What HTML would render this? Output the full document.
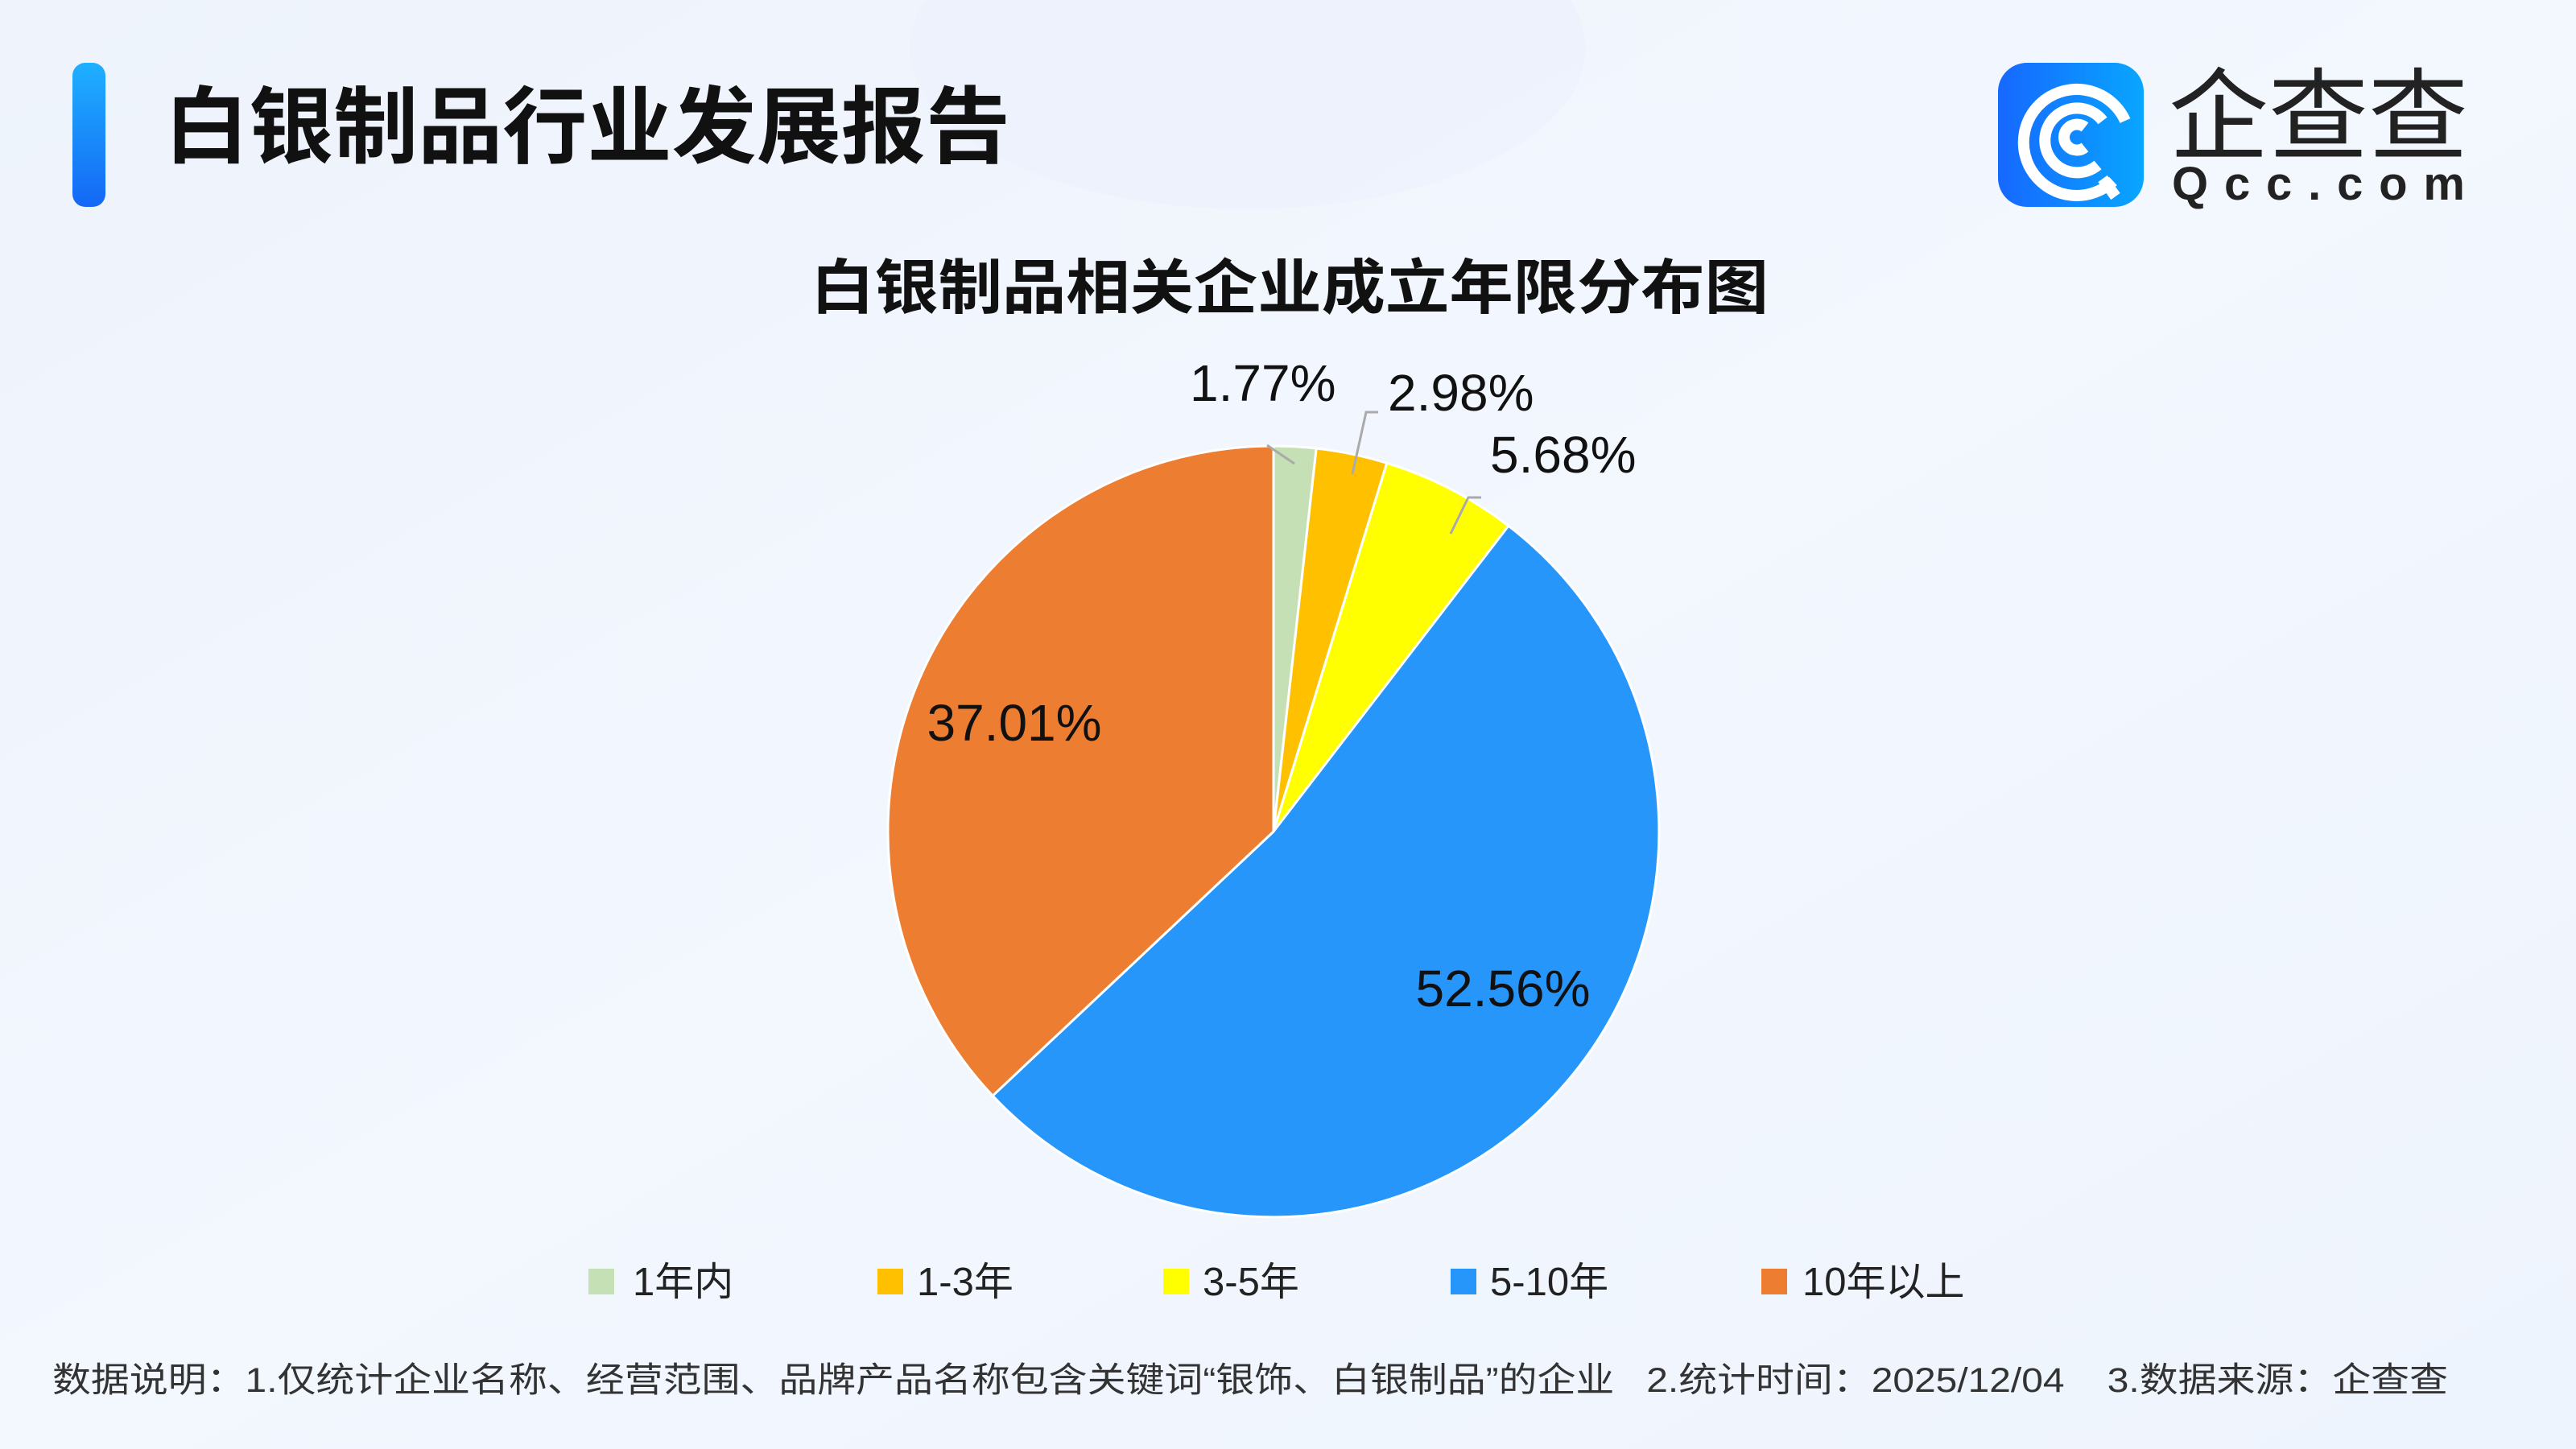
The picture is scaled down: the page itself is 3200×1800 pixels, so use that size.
<!DOCTYPE html>
<html><head><meta charset="utf-8"><style>
html,body{margin:0;padding:0;width:3200px;height:1800px;overflow:hidden}
svg{display:block}
text{font-family:"Liberation Sans","Noto Sans CJK SC",sans-serif}
</style></head><body>
<svg width="3200" height="1800" viewBox="0 0 3200 1800" xmlns="http://www.w3.org/2000/svg">
<defs>
<linearGradient id="bg" x1="0" y1="0" x2="1" y2="1">
<stop offset="0" stop-color="#eef3fc"/><stop offset="0.5" stop-color="#f3f7fe"/><stop offset="1" stop-color="#eef4fd"/>
</linearGradient>
<linearGradient id="bar" x1="0" y1="0" x2="0" y2="1">
<stop offset="0" stop-color="#1fb0ff"/><stop offset="1" stop-color="#1468f5"/>
</linearGradient>
<linearGradient id="ic" x1="0" y1="0" x2="1" y2="0">
<stop offset="0" stop-color="#1668ff"/><stop offset="1" stop-color="#08a6ff"/>
</linearGradient>
</defs>
<rect width="3200" height="1800" fill="url(#bg)"/>
<ellipse cx="1550" cy="60" rx="420" ry="200" fill="#e8effc" opacity="0.35"/>
<rect x="90" y="78" width="41" height="179" rx="16" fill="url(#bar)"/>
<text x="204" y="194" font-size="104" font-weight="bold" fill="#111" textLength="1051" lengthAdjust="spacingAndGlyphs">白银制品行业发展报告</text>
<rect x="2482" y="78" width="181" height="179" rx="36" fill="url(#ic)"/>
<g fill="none" stroke="#fff" stroke-width="14" stroke-linecap="butt">
<path d="M2625 225 A66 66 0 1 1 2640 150"/>
<path d="M2606 205 A40 40 0 1 1 2612 150"/>
<path d="M2590 183 A16 16 0 1 1 2590 158"/>
<path d="M2612 222 L2628 244"/>
</g>
<text x="2694" y="188" font-size="124" fill="#222" textLength="372" lengthAdjust="spacingAndGlyphs">企查查</text>
<text x="2698" y="248" font-size="58" font-weight="bold" fill="#222" textLength="364" lengthAdjust="spacing">Qcc.com</text>
<text x="1602" y="383" font-size="74" font-weight="bold" fill="#111" text-anchor="middle" textLength="1190" lengthAdjust="spacingAndGlyphs">白银制品相关企业成立年限分布图</text>
<g transform="translate(0,-20)">
<g stroke="#fff" stroke-width="3" stroke-linejoin="round">
<path d="M1582 1053 L1582 574 A479 479 0 0 1 1635.2 577 Z" fill="#c5e0b4"/>
<path d="M1582 1053 L1635.2 577 A479 479 0 0 1 1722.8 595.2 Z" fill="#ffc000"/>
<path d="M1582 1053 L1722.8 595.2 A479 479 0 0 1 1873.9 673.2 Z" fill="#ffff00"/>
<path d="M1582 1053 L1873.9 673.2 A479 479 0 1 1 1233.1 1381.2 Z" fill="#2796fa"/>
<path d="M1582 1053 L1233.1 1381.2 A479 479 0 0 1 1582 574 Z" fill="#ed7d31"/>
</g>
<g stroke="#aaa" stroke-width="3" fill="none">
<path d="M1574 573 L1608 596"/>
<path d="M1712 532 L1697 532 L1680 609"/>
<path d="M1840 638 L1824 638 L1802 683"/>
</g>
</g>
<g font-size="64" fill="#111">
<text x="1478" y="498">1.77%</text>
<text x="1724" y="510">2.98%</text>
<text x="1851" y="587">5.68%</text>
<text x="1260" y="920" text-anchor="middle">37.01%</text>
<text x="1867" y="1250" text-anchor="middle">52.56%</text>
</g>
<g font-size="49" fill="#222">
<rect x="731" y="1576" width="32" height="32" fill="#c5e0b4"/><text x="786" y="1609">1年内</text>
<rect x="1090" y="1576" width="32" height="32" fill="#ffc000"/><text x="1139" y="1609">1-3年</text>
<rect x="1445" y="1576" width="32" height="32" fill="#ffff00"/><text x="1494" y="1609">3-5年</text>
<rect x="1802" y="1576" width="32" height="32" fill="#2796fa"/><text x="1851" y="1609">5-10年</text>
<rect x="2188" y="1576" width="32" height="32" fill="#ed7d31"/><text x="2239" y="1609">10年以上</text>
</g>
<text x="65" y="1729" font-size="43" fill="#333" textLength="2976" lengthAdjust="spacingAndGlyphs" xml:space="preserve">数据说明：1.仅统计企业名称、经营范围、品牌产品名称包含关键词“银饰、白银制品”的企业   2.统计时间：2025/12/04    3.数据来源：企查查</text>
</svg>
</body></html>
